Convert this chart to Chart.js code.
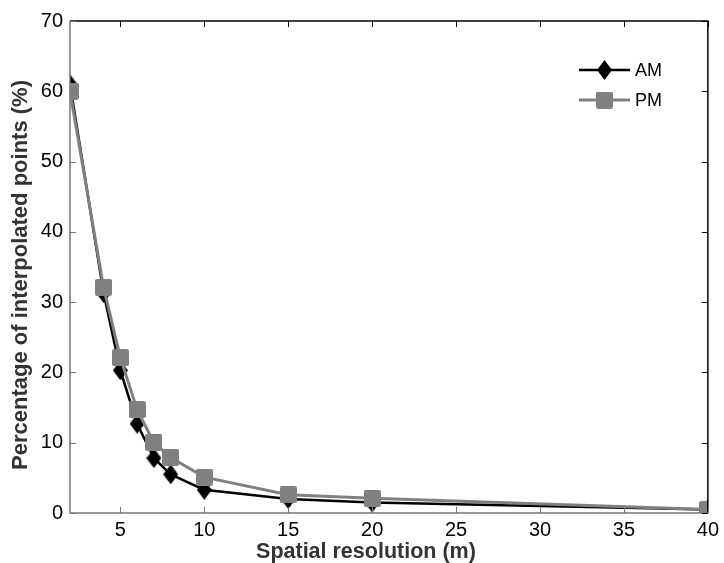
<!DOCTYPE html>
<html>
<head>
<meta charset="utf-8">
<script src="https://cdn.jsdelivr.net/npm/chart.js@4.4.1/dist/chart.umd.min.js"></script>
<style>
  html, body { margin: 0; padding: 0; background: #fff; }
  #wrap { width: 724px; height: 563px; position: relative; }
</style>
</head>
<body>
<div id="wrap"><canvas id="resChart"></canvas></div>
<script>
// data
const resolution = [2, 4, 5, 6, 7, 8, 10, 15, 20, 40];
const amValues = [61, 31.3, 20.3, 12.7, 7.8, 5.5, 3.3, 2.0, 1.5, 0.5];
const pmValues = [60, 32.1, 22.1, 14.7, 10.0, 7.9, 5.1, 2.6, 2.1, 0.5];
const xTicks = [5, 10, 15, 20, 25, 30, 35, 40];
const yTicks = [0, 10, 20, 30, 40, 50, 60, 70];
const xTitle = 'Spatial resolution (m)';
const yTitle = 'Percentage of interpolated points (%)';

const FONT = 'Liberation Sans, Arial, sans-serif';

// tall diamond marker for AM
function diamond(w, h, color) {
  const c = document.createElement('canvas');
  c.width = w; c.height = h;
  const g = c.getContext('2d');
  g.fillStyle = color;
  g.beginPath();
  g.moveTo(w / 2, 0); g.lineTo(w, h / 2); g.lineTo(w / 2, h); g.lineTo(0, h / 2);
  g.closePath(); g.fill();
  return c;
}
// rounded square marker for PM
function square(s, color) {
  const c = document.createElement('canvas');
  c.width = s; c.height = s;
  const g = c.getContext('2d');
  g.fillStyle = color;
  g.beginPath();
  g.roundRect(0, 0, s, s, 2);
  g.fill();
  return c;
}
const amMark = diamond(15, 20, '#000');
const pmMark = square(17, '#808080');

function toXY(xs, ys) { return xs.map((x, i) => ({ x: x, y: ys[i] })); }

// matlab style box with inward ticks, axis titles + legend
const boxPlugin = {
  id: 'box',
  afterDatasetsDraw(chart) {
    const ctx = chart.ctx, a = chart.chartArea;
    const xs = chart.scales.x, ys = chart.scales.y;
    ctx.save();
    ctx.lineWidth = 1.5;
    // top + right in black
    ctx.strokeStyle = '#000';
    ctx.beginPath();
    ctx.moveTo(a.left, a.top); ctx.lineTo(a.right, a.top); ctx.lineTo(a.right, a.bottom);
    ctx.stroke();
    // left + bottom in grey
    ctx.strokeStyle = '#777';
    ctx.beginPath();
    ctx.moveTo(a.left, a.top); ctx.lineTo(a.left, a.bottom); ctx.lineTo(a.right, a.bottom);
    ctx.stroke();
    ctx.lineWidth = 1;
    xTicks.forEach(v => {
      const px = Math.round(xs.getPixelForValue(v)) + 0.5;
      ctx.strokeStyle = '#777';
      ctx.beginPath(); ctx.moveTo(px, a.bottom); ctx.lineTo(px, a.bottom - 6); ctx.stroke();
      ctx.strokeStyle = '#000';
      ctx.beginPath(); ctx.moveTo(px, a.top); ctx.lineTo(px, a.top + 6); ctx.stroke();
    });
    yTicks.forEach(v => {
      const py = Math.round(ys.getPixelForValue(v)) + 0.5;
      ctx.strokeStyle = '#777';
      ctx.beginPath(); ctx.moveTo(a.left, py); ctx.lineTo(a.left + 6, py); ctx.stroke();
      ctx.strokeStyle = '#000';
      ctx.beginPath(); ctx.moveTo(a.right, py); ctx.lineTo(a.right - 6, py); ctx.stroke();
    });

    // axis titles (sit a bit off-centre in the original)
    ctx.fillStyle = '#333';
    ctx.textAlign = 'center';
    ctx.textBaseline = 'middle';
    ctx.font = 'bold 21.5px ' + FONT;
    ctx.fillText(xTitle, (a.left + a.right) / 2 - 23, a.bottom + 39);
    ctx.save();
    ctx.translate(21, (a.top + a.bottom) / 2 + 8);
    ctx.rotate(-Math.PI / 2);
    ctx.font = 'bold 22px ' + FONT;
    ctx.fillText(yTitle, 0, 0);
    ctx.restore();

    // legend
    const items = [
      { label: 'AM', color: '#000', mark: amMark, width: 2.5, y: a.top + 49 },
      { label: 'PM', color: '#808080', mark: pmMark, width: 3, y: a.top + 79 }
    ];
    const lx = a.left + 509;
    items.forEach(it => {
      ctx.strokeStyle = it.color;
      ctx.lineWidth = it.width;
      ctx.beginPath(); ctx.moveTo(lx, it.y); ctx.lineTo(lx + 51, it.y); ctx.stroke();
      ctx.drawImage(it.mark, lx + 25.5 - it.mark.width / 2, it.y - it.mark.height / 2);
      ctx.fillStyle = '#000';
      ctx.font = '18px ' + FONT;
      ctx.textBaseline = 'middle';
      ctx.textAlign = 'left';
      ctx.fillText(it.label, lx + 56, it.y + 1);
    });
    ctx.restore();
  }
};

new Chart(document.getElementById('resChart'), {
  type: 'line',
  data: {
    datasets: [{
      label: 'AM',
      data: toXY(resolution, amValues),
      borderColor: '#000',
      borderWidth: 2.5,
      pointStyle: amMark,
      order: 2,
      tension: 0
    }, {
      label: 'PM',
      data: toXY(resolution, pmValues),
      borderColor: '#808080',
      borderWidth: 3,
      pointStyle: pmMark,
      order: 1,
      tension: 0
    }]
  },
  options: {
    responsive: true,
    maintainAspectRatio: false,
    animation: false,
    layout: { padding: { top: 21, right: 11, left: 0, bottom: 0 } },
    plugins: { legend: { display: false }, tooltip: { enabled: false } },
    scales: {
      x: {
        type: 'linear',
        min: 2,
        max: 40,
        afterBuildTicks: s => { s.ticks = xTicks.map(v => ({ value: v })); },
        afterFit: s => { s.height = 50; },
        grid: { display: false, drawTicks: false },
        border: { display: false },
        ticks: { color: '#000', font: { family: FONT, size: 20 }, padding: 5, maxRotation: 0 }
      },
      y: {
        min: 0,
        max: 70,
        afterBuildTicks: s => { s.ticks = yTicks.map(v => ({ value: v })); },
        afterFit: s => { s.width = 70; },
        grid: { display: false, drawTicks: false },
        border: { display: false },
        ticks: { color: '#000', font: { family: FONT, size: 20 }, padding: 7 }
      }
    }
  },
  plugins: [boxPlugin]
});
</script>
</body>
</html>
